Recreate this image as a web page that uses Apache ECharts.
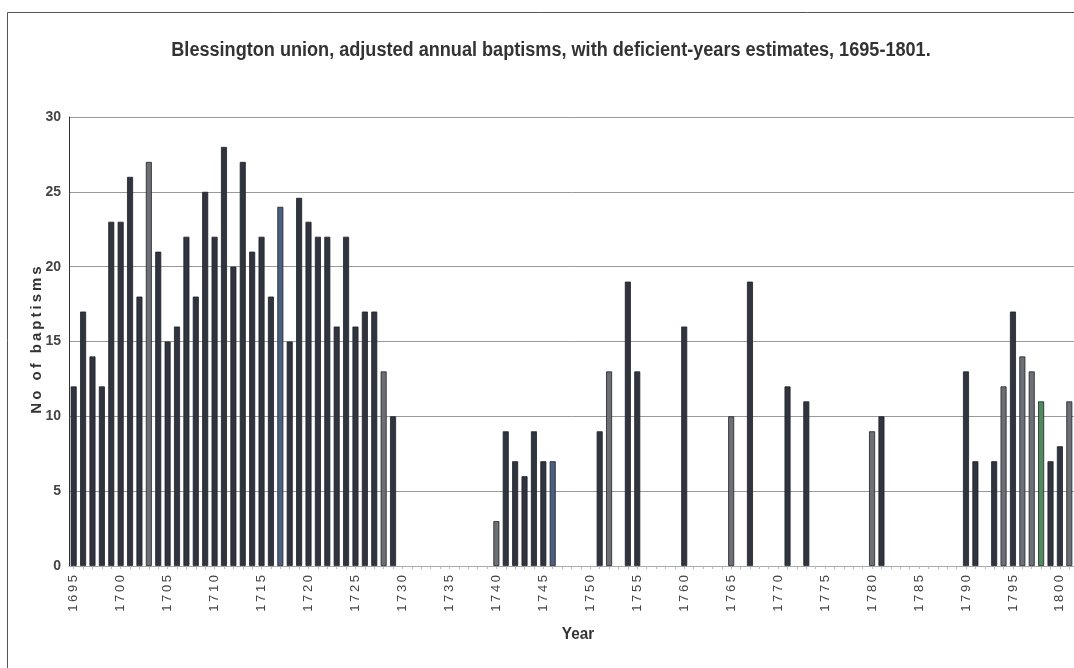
<!DOCTYPE html>
<html>
<head>
<meta charset="utf-8">
<script src="https://cdn.jsdelivr.net/npm/echarts@6/dist/echarts.min.js"></script>
<style>
html,body{margin:0;padding:0;background:#fff;}
#chart{width:1074px;height:668px;}
</style>
</head>
<body>
<div id="chart"></div>
<script>
// ---- data ----
const years = [];
for (let y = 1695; y <= 1801; y++) years.push(String(y));

const baptisms = [
  12, 17, 14, 12, 23, 23, 26, 18, 27, 21,      // 1695-1704
  15, 16, 22, 18, 25, 22, 28, 20, 27, 21,      // 1705-1714
  22, 18, 24, 15, 24.6, 23, 22, 22, 16, 22,    // 1715-1724
  16, 17, 17, 13, 10, 0, 0, 0, 0, 0,           // 1725-1734
  0, 0, 0, 0, 0, 3, 9, 7, 6, 9,                // 1735-1744
  7, 7, 0, 0, 0, 0, 9, 13, 0, 19,              // 1745-1754
  13, 0, 0, 0, 0, 16, 0, 0, 0, 0,              // 1755-1764
  10, 0, 19, 0, 0, 0, 12, 0, 11, 0,            // 1765-1774
  0, 0, 0, 0, 0, 9, 10, 0, 0, 0,               // 1775-1784
  0, 0, 0, 0, 0, 13, 7, 0, 7, 12,              // 1785-1794
  17, 14, 13, 11, 7, 8, 11                     // 1795-1801
];

// years shown as deficient-year estimates (lighter bars)
const estimateYears = ['1703', '1728', '1740', '1752', '1765', '1780', '1794', '1796', '1797', '1801'];

const yTicks = [0, 5, 10, 15, 20, 25, 30];

const titleText = 'Blessington union, adjusted annual baptisms, with deficient-years estimates, 1695-1801.';
const xName = 'Year';
const yName = 'No of baptisms';

// ---- chart ----
const colorFor = (yr) => {
  if (yr === '1798') return '#4e8a5c';
  if (yr === '1717' || yr === '1746') return '#4b5f7e';
  if (estimateYears.indexOf(yr) >= 0) return '#6c7075';
  return '#30343f';
};

const barData = baptisms.map((v, i) => ({
  value: v,
  itemStyle: { color: colorFor(years[i]), borderWidth: v > 0 ? 0.8 : 0 }
}));

const spaced = (s, sep) => s.split('').join(sep);

const chart = echarts.init(document.getElementById('chart'), null, { renderer: 'canvas' });
chart.setOption({
  animation: false,
  backgroundColor: '#ffffff',
  graphic: [
    { type: 'line', shape: { x1: 7.5, y1: 12.5, x2: 1074, y2: 12.5 }, style: { stroke: '#555', lineWidth: 1 } },
    { type: 'line', shape: { x1: 7.5, y1: 12.5, x2: 7.5, y2: 668 }, style: { stroke: '#555', lineWidth: 1 } },
    {
      type: 'text',
      x: 551, y: 50,
      scaleX: 0.905,
      style: {
        text: titleText,
        font: 'bold 20px "Liberation Sans", Arial, sans-serif',
        fill: '#333',
        textAlign: 'center', textVerticalAlign: 'middle'
      }
    },
    {
      type: 'text',
      x: 37, y: 340,
      rotation: Math.PI / 2,
      style: {
        text: spaced(yName, '\u2009'),
        font: 'bold 15px "Liberation Sans", Arial, sans-serif',
        fill: '#333',
        textAlign: 'center', textVerticalAlign: 'middle'
      }
    },
    {
      type: 'text',
      x: 578, y: 634,
      scaleX: 0.9,
      style: {
        text: xName,
        font: 'bold 17px "Liberation Sans", Arial, sans-serif',
        fill: '#333',
        textAlign: 'center', textVerticalAlign: 'middle'
      }
    }
  ],
  grid: { left: 69, top: 117, width: 1007, height: 449, containLabel: false },
  xAxis: {
    type: 'category',
    data: years,
    axisLine: { lineStyle: { color: '#aaa', width: 1 } },
    axisTick: { show: true, interval: 0, length: 3, alignWithLabel: true, lineStyle: { color: '#bbb' } },
    axisLabel: {
      interval: 4,
      rotate: 90,
      margin: 9,
      fontFamily: '"Liberation Sans", Arial, sans-serif',
      fontSize: 13,
      color: '#444',
      formatter: (v) => spaced(v, '\u2009')
    },
    splitLine: { show: false }
  },
  yAxis: {
    type: 'value',
    min: 0, max: 30, interval: 5,
    axisLine: { show: true, lineStyle: { color: '#333', width: 1 } },
    axisTick: { show: false },
    axisLabel: {
      margin: 8,
      fontFamily: '"Liberation Sans", Arial, sans-serif',
      fontSize: 14, fontWeight: 'bold', color: '#444',
      formatter: (v) => (yTicks.indexOf(v) >= 0 ? String(v) : '')
    },
    splitLine: { show: true, lineStyle: { color: '#999', width: 1 } }
  },
  series: [{
    type: 'bar',
    data: barData,
    barWidth: 6,
    itemStyle: { borderColor: '#1e2128' }
  }]
});
</script>
</body>
</html>
